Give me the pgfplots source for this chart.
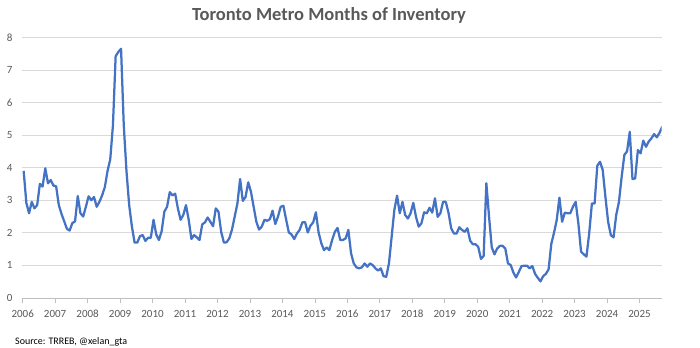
\documentclass[border=0pt]{standalone}
\usepackage{pgfplots}
\pgfplotsset{compat=1.18}
\usepackage{pgfplotstable}
\usepackage{fontspec}
\setmainfont{Carlito}
\definecolor{lineblue}{HTML}{4472C4}
\definecolor{txtgray}{HTML}{595959}
\definecolor{gridgray}{HTML}{D9D9D9}
\definecolor{axgray}{HTML}{BFBFBF}

\pgfplotstableread{
t v
0 3.90
1 2.92
2 2.60
3 2.95
4 2.75
5 2.85
6 3.50
7 3.42
8 3.98
9 3.52
10 3.62
11 3.45
12 3.43
13 2.85
14 2.58
15 2.35
16 2.12
17 2.07
18 2.30
19 2.35
20 3.13
21 2.60
22 2.50
23 2.80
24 3.12
25 3.00
26 3.10
27 2.80
28 2.95
29 3.15
30 3.40
31 3.90
32 4.25
33 5.30
34 7.42
35 7.55
36 7.65
37 5.30
38 3.90
39 2.85
40 2.20
41 1.70
42 1.70
43 1.90
44 1.93
45 1.75
46 1.85
47 1.85
48 2.40
49 1.95
50 1.78
51 2.05
52 2.65
53 2.80
54 3.25
55 3.15
56 3.20
57 2.75
58 2.40
59 2.55
60 2.85
61 2.40
62 1.81
63 1.93
64 1.86
65 1.78
66 2.26
67 2.32
68 2.47
69 2.34
70 2.20
71 2.75
72 2.65
73 2.03
74 1.70
75 1.71
76 1.83
77 2.10
78 2.50
79 2.90
80 3.65
81 2.98
82 3.10
83 3.55
84 3.26
85 2.80
86 2.34
87 2.10
88 2.19
89 2.40
90 2.37
91 2.42
92 2.68
93 2.27
94 2.50
95 2.80
96 2.83
97 2.41
98 2.01
99 1.95
100 1.81
101 1.98
102 2.09
103 2.32
104 2.33
105 2.01
106 2.22
107 2.32
108 2.63
109 2.01
110 1.68
111 1.47
112 1.55
113 1.47
114 1.78
115 2.03
116 2.15
117 1.78
118 1.78
119 1.83
120 2.09
121 1.37
122 1.06
123 0.94
124 0.91
125 0.94
126 1.06
127 0.96
128 1.06
129 1.01
130 0.91
131 0.84
132 0.91
133 0.67
134 0.65
135 1.06
136 1.88
137 2.70
138 3.14
139 2.60
140 2.95
141 2.55
142 2.44
143 2.60
144 2.92
145 2.49
146 2.19
147 2.29
148 2.63
149 2.60
150 2.77
151 2.62
152 3.06
153 2.49
154 2.60
155 2.95
156 2.95
157 2.62
158 2.14
159 1.98
160 1.98
161 2.17
162 2.09
163 2.03
164 2.14
165 1.76
166 1.65
167 1.65
168 1.57
169 1.20
170 1.29
171 3.52
172 2.49
173 1.55
174 1.34
175 1.52
176 1.60
177 1.60
178 1.52
179 1.06
180 1.01
181 0.78
182 0.63
183 0.80
184 0.98
185 0.99
186 0.99
187 0.91
188 0.98
189 0.74
190 0.62
191 0.51
192 0.67
193 0.74
194 0.88
195 1.66
196 2.00
197 2.39
198 3.08
199 2.34
200 2.62
201 2.60
202 2.60
203 2.80
204 2.95
205 2.29
206 1.42
207 1.34
208 1.27
209 1.98
210 2.90
211 2.90
212 4.06
213 4.18
214 3.93
215 3.10
216 2.34
217 1.93
218 1.86
219 2.55
220 2.95
221 3.72
222 4.39
223 4.50
224 5.10
225 3.65
226 3.67
227 4.54
228 4.44
229 4.83
230 4.64
231 4.80
232 4.90
233 5.03
234 4.93
235 5.07
236 5.26
}\datatable

\begin{document}
\begin{tikzpicture}
\useasboundingbox (0,0) rectangle (700bp,348bp);
\begin{axis}[
  at={(21.7bp,50bp)}, anchor=south west,
  scale only axis, width=640bp, height=260.7bp,
  xmin=2005.97, xmax=2025.68, ymin=0, ymax=8,
  xtick={2006,2007,...,2025}, ytick={0,1,...,8},
  axis x line*=bottom, axis y line*=left,
  x axis line style={draw=axgray, line width=0.75bp, -},
  y axis line style={draw=none},
  xtick align=outside, major tick length=5bp,
  xtick style={draw=axgray, line width=0.75bp},
  ytick style={draw=none},
  ymajorgrids, grid style={draw=gridgray, line width=0.75bp},
  /pgf/number format/assume math mode=true,
  /pgf/number format/1000 sep={},
  tick label style={font=\fontsize{11bp}{13bp}\selectfont, text=txtgray},
  xticklabel style={anchor=north, inner sep=0pt, yshift=-7bp},
  yticklabel style={anchor=east, inner sep=0pt, xshift=-9bp},
]
\addplot[color=lineblue, line width=2.25bp, line join=round, mark=none]
  table[x expr={2006.03+\thisrow{t}/12}, y=v] {\datatable};
\end{axis}
\node[font=\fontsize{18.5bp}{22bp}\selectfont\bfseries, text=txtgray] at (329bp,333bp) {Toronto Metro Months of Inventory};
\node[anchor=west, inner sep=0pt, font=\fontsize{10bp}{12bp}\selectfont] at (15bp,6.3bp) {Source: TRREB, @xelan\_gta};
\end{tikzpicture}
\end{document}
